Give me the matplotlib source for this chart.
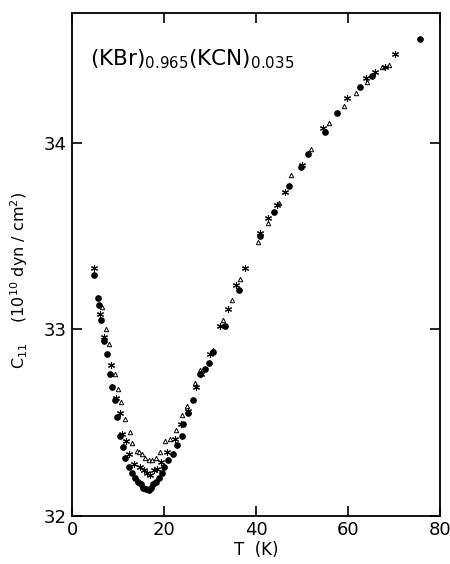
import numpy as np
import matplotlib.pyplot as plt

# filled circles
t_dot = [4.83, 5.55, 5.91, 6.41, 6.99, 7.57, 8.29, 8.79, 9.44, 9.87, 10.52, 11.1, 11.6, 12.3,
         12.97, 13.7, 14.27, 14.9, 15.5, 16.0, 16.65, 17.15, 17.66, 18.23, 18.88, 19.46, 20.1,
         20.9, 21.9, 22.85, 23.85, 24.2, 25.3, 26.2, 27.75, 28.8, 29.8, 30.6, 33.2, 36.4, 40.9,
         44.0, 47.1, 49.8, 51.3, 54.9, 57.7, 62.7, 65.1, 75.7]
c_dot = [33.29, 33.17, 33.13, 33.05, 32.94, 32.87, 32.76, 32.69, 32.62, 32.53, 32.43, 32.37,
         32.31, 32.26, 32.23, 32.20, 32.18, 32.17, 32.15, 32.145, 32.14, 32.15, 32.17, 32.18,
         32.20, 32.23, 32.26, 32.30, 32.33, 32.38, 32.43, 32.49, 32.55, 32.62, 32.76, 32.79,
         32.82, 32.88, 33.02, 33.21, 33.50, 33.63, 33.77, 33.87, 33.94, 34.06, 34.16, 34.30,
         34.36, 34.56]

# asterisks
t_ast = [4.68, 5.98, 6.92, 8.5, 9.66, 10.38, 10.95, 11.68, 12.4, 13.48, 14.77, 15.7, 16.36,
         16.9, 17.8, 18.4, 19.3, 20.6, 22.3, 23.6, 25.2, 26.9, 28.0, 30.05, 32.2, 34.0, 35.7,
         37.7, 40.9, 42.7, 44.6, 46.2, 49.9, 54.6, 59.8, 63.8, 65.9, 68.1, 70.3]
c_ast = [33.33, 33.08, 32.96, 32.81, 32.63, 32.55, 32.44, 32.40, 32.33, 32.28, 32.26, 32.245,
         32.23, 32.22, 32.245, 32.25, 32.29, 32.34, 32.41, 32.49, 32.56, 32.69, 32.76, 32.87,
         33.02, 33.11, 33.24, 33.33, 33.52, 33.60, 33.67, 33.74, 33.88, 34.08, 34.24, 34.35,
         34.38, 34.41, 34.48]

# open triangles
t_tri = [6.5, 7.4, 8.0, 9.37, 10.0, 10.6, 11.46, 12.54, 13.1, 14.05, 14.6, 15.3, 15.9, 16.65,
         17.4, 18.23, 19.1, 20.3, 21.4, 22.6, 24.0, 24.9, 26.7, 27.75, 30.7, 32.8, 34.8, 36.5,
         40.4, 42.6, 44.9, 47.7, 51.9, 55.9, 59.1, 61.8, 64.2, 67.4, 69.0]
c_tri = [33.12, 33.00, 32.92, 32.76, 32.68, 32.61, 32.52, 32.45, 32.39, 32.35, 32.34, 32.33,
         32.31, 32.30, 32.30, 32.31, 32.34, 32.40, 32.41, 32.46, 32.54, 32.59, 32.71, 32.78,
         32.89, 33.05, 33.16, 33.27, 33.47, 33.57, 33.68, 33.83, 33.97, 34.11, 34.20, 34.27,
         34.33, 34.41, 34.42]

fig = plt.figure(figsize=(4.5, 5.64), dpi=100)
ax = fig.add_axes([0.16, 0.0856, 0.818, 0.892])

ax.plot(t_tri, c_tri, '^', mfc='white', mec='black', ms=3.2, mew=0.7, ls='none')
ax.plot(t_ast, c_ast, marker=(6, 2, 0), color='black', ms=5, mew=0.8, ls='none')
ax.plot(t_dot, c_dot, 'o', color='black', ms=3.8, ls='none')

ax.set_xlim(0, 80)
ax.set_ylim(32, 34.7)
ax.set_xticks([0, 20, 40, 60, 80])
ax.set_yticks([32, 33, 34])
ax.tick_params(direction='in', length=7, width=1.2, top=True, right=True,
               labelsize=13, pad=4)
for s in ax.spines.values():
    s.set_linewidth(1.3)

ax.text(4, 34.45, '(KBr)$_{0.965}$(KCN)$_{0.035}$', fontsize=15.5, va='center')
ax.set_xlabel('T  (K)', fontsize=12)
ax.set_ylabel('C$_{11}$    (10$^{10}$ dyn / cm$^2$)', fontsize=11.5)
ax.xaxis.set_label_coords(0.5, -0.05)
ax.yaxis.set_label_coords(-0.115, 0.468)

plt.savefig('out.png', dpi=100)
